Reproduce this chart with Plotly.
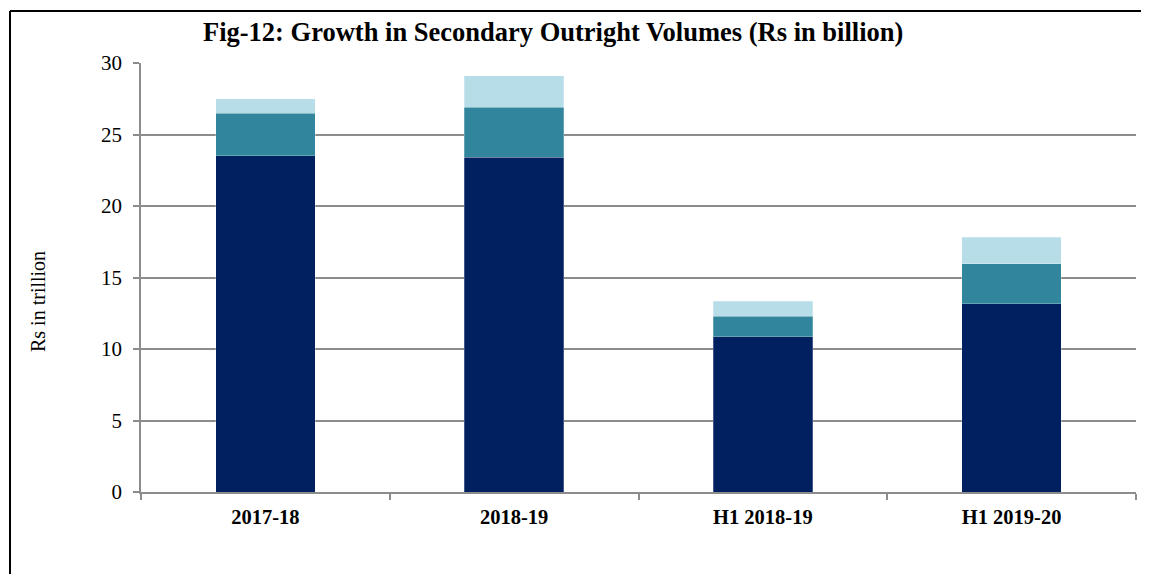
import plotly.graph_objects as go

categories = ["2017-18", "2018-19", "H1 2018-19", "H1 2019-20"]
central_govt = [23.5, 23.4, 10.85, 13.15]
state_govt = [3.0, 3.5, 1.45, 2.8]
treasury_bills = [1.0, 2.2, 1.05, 1.85]
y_ticks = [0, 5, 10, 15, 20, 25, 30]

OFF = 8  # page body margin
W, H = 1149 - 2 * OFF, 582 - 2 * OFF
# reference pixel positions of plot area
PL, PR, PT, PB = 141, 1136, 63, 492
L, T = PL - OFF, PT - OFF
R, B = W - (PR - OFF), H - (PB - OFF)
pw, ph = W - L - R, H - T - B

def px_x(x):  # reference pixel -> paper x
    return (x - PL) / pw

def px_y(y):  # reference pixel -> paper y
    return (PB - y) / ph

fig = go.Figure()
for name, vals, col in [
    ("Central Govt Securities", central_govt, "#002060"),
    ("State Govt Securities", state_govt, "#31859C"),
    ("Treasury Bills", treasury_bills, "#B7DEE8"),
]:
    fig.add_trace(go.Bar(x=categories, y=vals, name=name,
                         marker=dict(color=col, line=dict(color="rgba(255,255,255,0.5)", width=0.5))))

fig.update_layout(
    width=W, height=H,
    barmode="stack", bargap=0.6,
    showlegend=False,
    plot_bgcolor="white", paper_bgcolor="white",
    margin=dict(l=L, r=R, t=T, b=B),
    font=dict(family="Liberation Serif", color="black"),
    xaxis=dict(showline=True, linecolor="#8c8c8c", linewidth=1.5,
               ticks="outside", tickson="boundaries", ticklen=6, tickcolor="#8c8c8c", tickwidth=1.5,
               tickfont=dict(size=20.5, family="Liberation Serif", color="black"),
               ticklabelstandoff=6,
               tickprefix="<b>", ticksuffix="</b>", showgrid=False),
    yaxis=dict(range=[0, 30], tickvals=y_ticks, showline=True, linecolor="#8c8c8c", linewidth=1.5,
               ticks="outside", ticklen=6, tickcolor="#8c8c8c", tickwidth=1.5,
               showgrid=True, gridcolor="#8c8c8c", gridwidth=1.5, zeroline=False,
               ticklabelstandoff=7,
               tickfont=dict(size=21, family="Liberation Serif", color="black")),
    annotations=[
        dict(text="<b>Fig-12: Growth in Secondary Outright Volumes (Rs in billion)</b>",
             xref="paper", yref="paper", x=px_x(553), y=px_y(32), xanchor="center", yanchor="middle",
             showarrow=False, font=dict(size=26.5, family="Liberation Serif", color="black")),
        dict(text="Rs in trillion", xref="paper", yref="paper", x=px_x(38), y=px_y(302),
             xanchor="center", yanchor="middle", textangle=-90, showarrow=False,
             font=dict(size=20, family="Liberation Serif", color="black")),
    ],
)

# outer frame (left and top border)
x0 = px_x(10)
y1 = px_y(11)
fig.add_shape(type="line", xref="paper", yref="paper", x0=x0, x1=x0, y0=-1, y1=y1,
              line=dict(color="black", width=2))
fig.add_shape(type="line", xref="paper", yref="paper", x0=x0, x1=1.2, y0=y1, y1=y1,
              line=dict(color="black", width=2))

fig.write_html("out.html")
